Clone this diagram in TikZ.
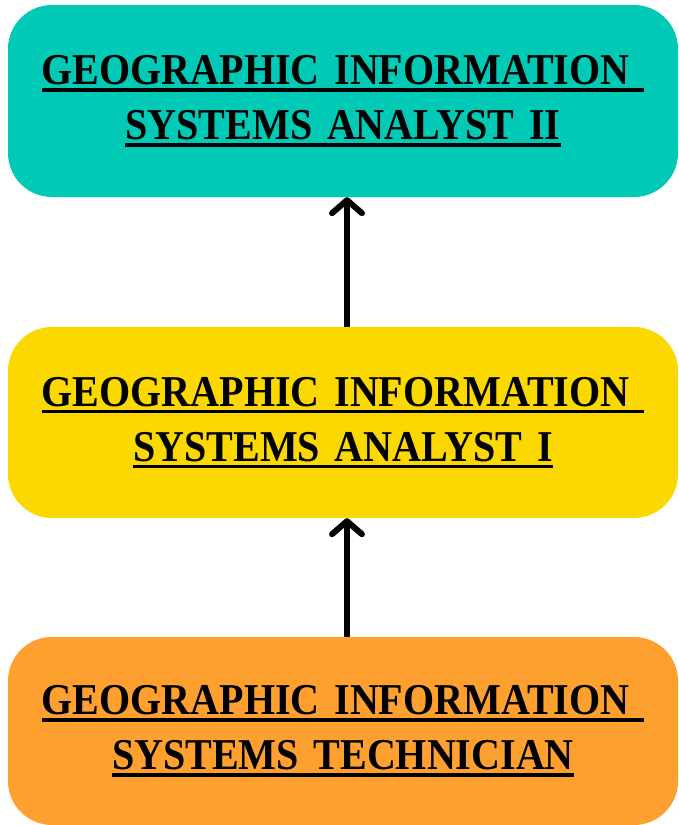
\documentclass[tikz,border=0pt]{standalone}
\usepackage{fontspec}
\setmainfont{Liberation Serif}[FakeStretch=0.91, WordSpace=0.7]
\usetikzlibrary{arrows.meta}
\definecolor{tealbox}{RGB}{0,201,181}
\definecolor{yellowbox}{RGB}{250,216,0}
\definecolor{orangebox}{RGB}{254,160,48}
\newsavebox\ulsave
\newcommand\ulline[1]{\leavevmode\sbox\ulsave{#1}\rlap{\rule[-7pt]{\wd\ulsave}{3.5pt}}\usebox\ulsave}
\tikzset{
	jobbox/.style={rounded corners=44pt, minimum width=670pt, text width=650pt, align=center,
		font=\fontsize{44}{55}\selectfont\bfseries, inner sep=0pt},
	uparrow/.style={line width=6pt, -{Straight Barb[round, length=13pt, width=30pt, line width=6pt]}}
}
\begin{document}
\begin{tikzpicture}[x=1pt, y=-1pt]
			\useasboundingbox (0,0) rectangle (678,825);
	
			% boxes
			\node[jobbox, fill=tealbox, minimum height=192pt] (analysttwo) at (343,101)
				{\ulline{GEOGRAPHIC INFORMATION }\\\ulline{SYSTEMS ANALYST II}};
			\node[jobbox, fill=yellowbox, minimum height=191pt] (analystone) at (343,422.5)
				{\ulline{GEOGRAPHIC INFORMATION }\\\ulline{SYSTEMS ANALYST I}};
			\node[jobbox, fill=orangebox, minimum height=188pt] (technician) at (343,731)
				{\ulline{GEOGRAPHIC INFORMATION }\\\ulline{SYSTEMS TECHNICIAN}};
	
			% arrows
			\draw[uparrow] ([xshift=4pt]analystone.north) -- ([xshift=4pt]analysttwo.south);
			\draw[uparrow] ([xshift=4pt]technician.north) -- ([xshift=4pt]analystone.south);
		\end{tikzpicture}
\end{document}
